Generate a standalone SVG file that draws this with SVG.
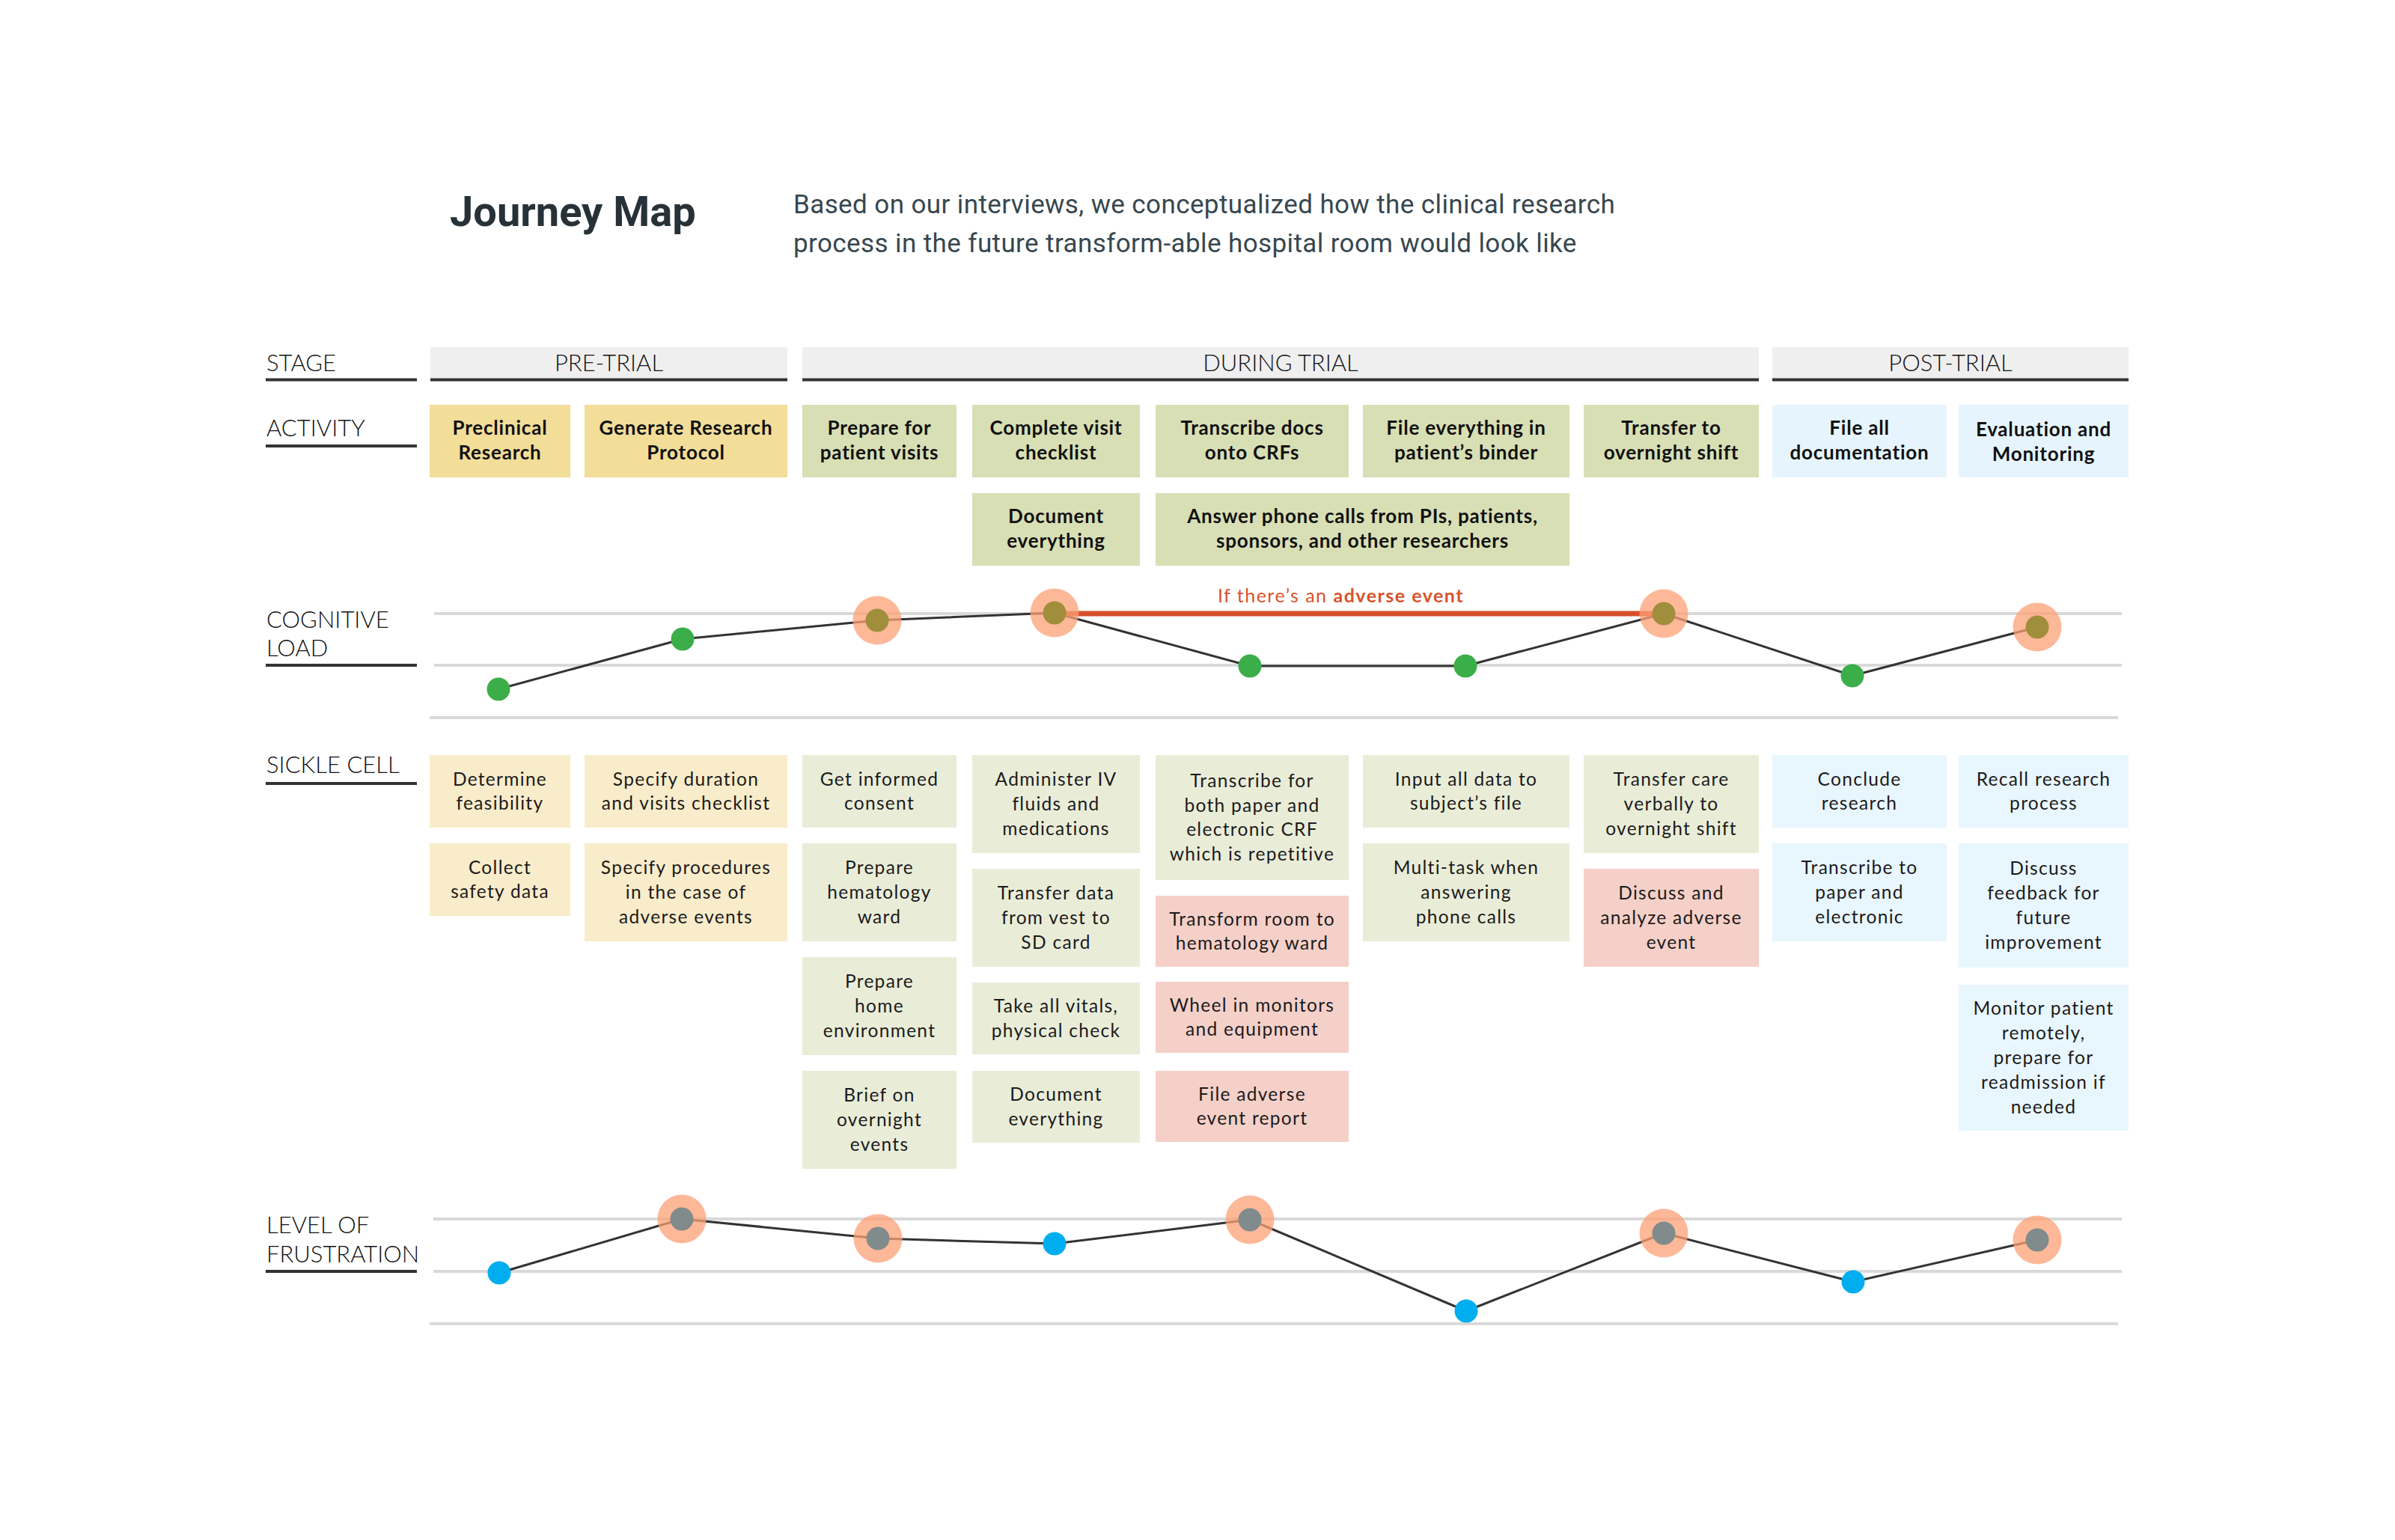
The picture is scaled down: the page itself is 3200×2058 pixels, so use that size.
<svg xmlns="http://www.w3.org/2000/svg" width="3200" height="2058" viewBox="0 0 3200 2058">
<style>
.title{font-family:Roboto,"Liberation Sans",sans-serif;font-weight:700;font-size:56px;fill:#263238}
.sub{font-family:Roboto,"Liberation Sans",sans-serif;font-size:35px;letter-spacing:0.4px;fill:#37474f}
.lbl{font-family:Lato,"Liberation Sans",sans-serif;font-weight:300;font-size:31px;fill:#111}
.stg{font-family:Lato,"Liberation Sans",sans-serif;font-weight:300;font-size:31px;fill:#111;text-anchor:middle}
.act{font-family:Lato,"Liberation Sans",sans-serif;font-weight:700;font-size:26px;letter-spacing:0.8px;fill:#111;text-anchor:middle}
.card{font-family:Lato,"Liberation Sans",sans-serif;font-size:24.5px;letter-spacing:1.3px;fill:#1c1a1b;text-anchor:middle}
.ul{stroke:#333;stroke-width:4}
.guide{stroke:#d9d9d9;stroke-width:4}
.curve{fill:none;stroke:#333;stroke-width:3;stroke-linejoin:round}
.halo{fill:#fca076;fill-opacity:0.75}
.ay{fill:#f2dd99}.ag{fill:#d8dfb4}.ab{fill:#e6f5fd}
.cy{fill:#f8ecca}.cg{fill:#e9edd8}.cp{fill:#f4d0c8}.cb{fill:#e8f6fd}
.green{fill:#3cae49}.olive{fill:#a08e3c}.blue{fill:#00aeef}.grey{fill:#818b8b}
</style>
<rect width="3200" height="2058" fill="#fff"/>

<g id="header">
<text class="title" x="601" y="302">Journey Map</text>
<text class="sub" x="1060" y="285">Based on our interviews, we conceptualized how the clinical research</text>
<text class="sub" x="1060" y="337">process in the future transform-able hospital room would look like</text>
</g>

<g id="row-labels">
<text class="lbl" x="356" y="496">STAGE</text>
<line class="ul" x1="355" y1="507.5" x2="557" y2="507.5"/>
<text class="lbl" x="356" y="583">ACTIVITY</text>
<line class="ul" x1="355" y1="596" x2="557" y2="596"/>
<text class="lbl" x="356" y="839">COGNITIVE</text>
<text class="lbl" x="356" y="877">LOAD</text>
<line class="ul" x1="355" y1="889" x2="557" y2="889"/>
<text class="lbl" x="356" y="1033">SICKLE CELL</text>
<line class="ul" x1="355" y1="1047" x2="557" y2="1047"/>
<text class="lbl" x="356" y="1648">LEVEL OF</text>
<text class="lbl" x="356" y="1687">FRUSTRATION</text>
<line class="ul" x1="355" y1="1699" x2="557" y2="1699"/>
</g>

<g id="stages">
<g id="stage-pre"><rect x="575" y="464" width="477" height="42" fill="#efefef"/><line class="ul" x1="575" y1="507.5" x2="1052" y2="507.5"/><text class="stg" x="813.5" y="496">PRE-TRIAL</text></g>
<g id="stage-during"><rect x="1072" y="464" width="1278" height="42" fill="#efefef"/><line class="ul" x1="1072" y1="507.5" x2="2350" y2="507.5"/><text class="stg" x="1711" y="496">DURING TRIAL</text></g>
<g id="stage-post"><rect x="2368" y="464" width="476" height="42" fill="#efefef"/><line class="ul" x1="2368" y1="507.5" x2="2844" y2="507.5"/><text class="stg" x="2606" y="496">POST-TRIAL</text></g>
</g>

<g id="activities">
<g id="act-1"><rect class="ay" x="574" y="541" width="188" height="97"/><text class="act" x="668" y="580.5"><tspan x="668">Preclinical</tspan><tspan x="668" dy="33">Research</tspan></text></g>
<g id="act-2"><rect class="ay" x="781" y="541" width="271" height="97"/><text class="act" x="916.5" y="580.5"><tspan x="916.5">Generate Research</tspan><tspan x="916.5" dy="33">Protocol</tspan></text></g>
<g id="act-3"><rect class="ag" x="1072" y="541" width="206" height="97"/><text class="act" x="1175" y="580.5"><tspan x="1175">Prepare for</tspan><tspan x="1175" dy="33">patient visits</tspan></text></g>
<g id="act-4"><rect class="ag" x="1299" y="541" width="224" height="97"/><text class="act" x="1411" y="580.5"><tspan x="1411">Complete visit</tspan><tspan x="1411" dy="33">checklist</tspan></text></g>
<g id="act-5"><rect class="ag" x="1544" y="541" width="258" height="97"/><text class="act" x="1673" y="580.5"><tspan x="1673">Transcribe docs</tspan><tspan x="1673" dy="33">onto CRFs</tspan></text></g>
<g id="act-6"><rect class="ag" x="1821" y="541" width="276" height="97"/><text class="act" x="1959" y="580.5"><tspan x="1959">File everything in</tspan><tspan x="1959" dy="33">patient’s binder</tspan></text></g>
<g id="act-7"><rect class="ag" x="2116" y="541" width="234" height="97"/><text class="act" x="2233" y="580.5"><tspan x="2233">Transfer to</tspan><tspan x="2233" dy="33">overnight shift</tspan></text></g>
<g id="act-8"><rect class="ab" x="2368" y="541" width="233" height="97"/><text class="act" x="2484.5" y="580.5"><tspan x="2484.5">File all</tspan><tspan x="2484.5" dy="33">documentation</tspan></text></g>
<g id="act-9"><rect class="ab" x="2617" y="541" width="227" height="97"/><text class="act" x="2730.5" y="582.5"><tspan x="2730.5">Evaluation and</tspan><tspan x="2730.5" dy="33">Monitoring</tspan></text></g>
<g id="act-10"><rect class="ag" x="1299" y="659" width="224" height="97"/><text class="act" x="1411" y="698.5"><tspan x="1411">Document</tspan><tspan x="1411" dy="33">everything</tspan></text></g>
<g id="act-11"><rect class="ag" x="1544" y="659" width="553" height="97"/><text class="act" x="1820.5" y="698.5"><tspan x="1820.5">Answer phone calls from PIs, patients,</tspan><tspan x="1820.5" dy="33">sponsors, and other researchers</tspan></text></g>
</g>

<g id="connectors">
<g id="cognitive-guides">
<line class="guide" x1="580" y1="820" x2="2835" y2="820"/>
<line class="guide" x1="580" y1="889" x2="2835" y2="889"/>
<line class="guide" x1="574" y1="959" x2="2830" y2="959"/>
</g>
<polyline class="curve" points="666,921 912,854 1172,829 1409,819 1670,890 1958,890 2223,820 2475,903 2722,838"/>
<line x1="1409" y1="820" x2="2223" y2="820" stroke="#d84f2b" stroke-width="7"/>
<g id="frustration-guides">
<line class="guide" x1="579" y1="1629" x2="2835" y2="1629"/>
<line class="guide" x1="579" y1="1699" x2="2835" y2="1699"/>
<line class="guide" x1="574" y1="1769" x2="2830" y2="1769"/>
</g>
<polyline class="curve" points="667,1701 911,1629 1173,1655 1409,1662 1670,1630 1959,1752 2223,1648 2476,1713 2722,1657"/>
</g>

<g id="adverse-label">
<text x="1791.5" y="805" text-anchor="middle" font-family="Lato, 'Liberation Sans', sans-serif" font-size="25" letter-spacing="1.5" fill="#d9532c">If there’s an <tspan font-weight="700">adverse event</tspan></text>
</g>

<g id="cognitive-points">
<g id="cl-1"><circle class="green" cx="666" cy="921" r="15.5"/></g>
<g id="cl-2"><circle class="green" cx="912" cy="854" r="15.5"/></g>
<g id="cl-3"><circle class="halo" cx="1172" cy="829" r="32.5"/><circle class="olive" cx="1172" cy="829" r="15.5"/></g>
<g id="cl-4"><circle class="halo" cx="1409" cy="819" r="32.5"/><circle class="olive" cx="1409" cy="819" r="15.5"/></g>
<g id="cl-5"><circle class="green" cx="1670" cy="890" r="15.5"/></g>
<g id="cl-6"><circle class="green" cx="1958" cy="890" r="15.5"/></g>
<g id="cl-7"><circle class="halo" cx="2223" cy="820" r="32.5"/><circle class="olive" cx="2223" cy="820" r="15.5"/></g>
<g id="cl-8"><circle class="green" cx="2475" cy="903" r="15.5"/></g>
<g id="cl-9"><circle class="halo" cx="2722" cy="838" r="32.5"/><circle class="olive" cx="2722" cy="838" r="15.5"/></g>
</g>

<g id="frustration-points">
<g id="fr-1"><circle class="blue" cx="667" cy="1701" r="15.5"/></g>
<g id="fr-2"><circle class="halo" cx="911" cy="1629" r="32.5"/><circle class="grey" cx="911" cy="1629" r="15.5"/></g>
<g id="fr-3"><circle class="halo" cx="1173" cy="1655" r="32.5"/><circle class="grey" cx="1173" cy="1655" r="15.5"/></g>
<g id="fr-4"><circle class="blue" cx="1409" cy="1662" r="15.5"/></g>
<g id="fr-5"><circle class="halo" cx="1670" cy="1630" r="32.5"/><circle class="grey" cx="1670" cy="1630" r="15.5"/></g>
<g id="fr-6"><circle class="blue" cx="1959" cy="1752" r="15.5"/></g>
<g id="fr-7"><circle class="halo" cx="2223" cy="1648" r="32.5"/><circle class="grey" cx="2223" cy="1648" r="15.5"/></g>
<g id="fr-8"><circle class="blue" cx="2476" cy="1713" r="15.5"/></g>
<g id="fr-9"><circle class="halo" cx="2722" cy="1657" r="32.5"/><circle class="grey" cx="2722" cy="1657" r="15.5"/></g>
</g>

<g id="sickle-cell">
<g id="sc-1-1"><rect class="cy" x="574" y="1009" width="188" height="97"/><text class="card" y="1049.5"><tspan x="668">Determine</tspan><tspan x="668" dy="32.8">feasibility</tspan></text></g>
<g id="sc-1-2"><rect class="cy" x="574" y="1127" width="188" height="97"/><text class="card" y="1167.5"><tspan x="668">Collect</tspan><tspan x="668" dy="32.8">safety data</tspan></text></g>
<g id="sc-2-1"><rect class="cy" x="781" y="1009" width="271" height="97"/><text class="card" y="1049.5"><tspan x="916.5">Specify duration</tspan><tspan x="916.5" dy="32.8">and visits checklist</tspan></text></g>
<g id="sc-2-2"><rect class="cy" x="781" y="1127" width="271" height="131"/><text class="card" y="1168.2"><tspan x="916.5">Specify procedures</tspan><tspan x="916.5" dy="32.8">in the case of</tspan><tspan x="916.5" dy="32.8">adverse events</tspan></text></g>
<g id="sc-3-1"><rect class="cg" x="1072" y="1009" width="206" height="97"/><text class="card" y="1049.5"><tspan x="1175">Get informed</tspan><tspan x="1175" dy="32.8">consent</tspan></text></g>
<g id="sc-3-2"><rect class="cg" x="1072" y="1127" width="206" height="131"/><text class="card" y="1168.2"><tspan x="1175">Prepare</tspan><tspan x="1175" dy="32.8">hematology</tspan><tspan x="1175" dy="32.8">ward</tspan></text></g>
<g id="sc-3-3"><rect class="cg" x="1072" y="1279" width="206" height="131"/><text class="card" y="1320.2"><tspan x="1175">Prepare</tspan><tspan x="1175" dy="32.8">home</tspan><tspan x="1175" dy="32.8">environment</tspan></text></g>
<g id="sc-3-4"><rect class="cg" x="1072" y="1431" width="206" height="131"/><text class="card" y="1472.2"><tspan x="1175">Brief on</tspan><tspan x="1175" dy="32.8">overnight</tspan><tspan x="1175" dy="32.8">events</tspan></text></g>
<g id="sc-4-1"><rect class="cg" x="1299" y="1009" width="224" height="131"/><text class="card" y="1050.2"><tspan x="1411">Administer IV</tspan><tspan x="1411" dy="32.8">fluids and</tspan><tspan x="1411" dy="32.8">medications</tspan></text></g>
<g id="sc-4-2"><rect class="cg" x="1299" y="1161" width="224" height="131"/><text class="card" y="1202.2"><tspan x="1411">Transfer data</tspan><tspan x="1411" dy="32.8">from vest to</tspan><tspan x="1411" dy="32.8">SD card</tspan></text></g>
<g id="sc-4-3"><rect class="cg" x="1299" y="1313" width="224" height="96"/><text class="card" y="1353"><tspan x="1411">Take all vitals,</tspan><tspan x="1411" dy="32.8">physical check</tspan></text></g>
<g id="sc-4-4"><rect class="cg" x="1299" y="1431" width="224" height="96"/><text class="card" y="1471"><tspan x="1411">Document</tspan><tspan x="1411" dy="32.8">everything</tspan></text></g>
<g id="sc-5-1"><rect class="cg" x="1544" y="1009" width="258" height="167"/><text class="card" y="1051.8"><tspan x="1673">Transcribe for</tspan><tspan x="1673" dy="32.8">both paper and</tspan><tspan x="1673" dy="32.8">electronic CRF</tspan><tspan x="1673" dy="32.8">which is repetitive</tspan></text></g>
<g id="sc-5-2"><rect class="cp" x="1544" y="1197" width="258" height="95"/><text class="card" y="1236.6"><tspan x="1673">Transform room to</tspan><tspan x="1673" dy="32.8">hematology ward</tspan></text></g>
<g id="sc-5-3"><rect class="cp" x="1544" y="1312" width="258" height="95"/><text class="card" y="1351.6"><tspan x="1673">Wheel in monitors</tspan><tspan x="1673" dy="32.8">and equipment</tspan></text></g>
<g id="sc-5-4"><rect class="cp" x="1544" y="1431" width="258" height="95"/><text class="card" y="1470.6"><tspan x="1673">File adverse</tspan><tspan x="1673" dy="32.8">event report</tspan></text></g>
<g id="sc-6-1"><rect class="cg" x="1821" y="1009" width="276" height="97"/><text class="card" y="1049.5"><tspan x="1959">Input all data to</tspan><tspan x="1959" dy="32.8">subject’s file</tspan></text></g>
<g id="sc-6-2"><rect class="cg" x="1821" y="1127" width="276" height="131"/><text class="card" y="1168.2"><tspan x="1959">Multi-task when</tspan><tspan x="1959" dy="32.8">answering</tspan><tspan x="1959" dy="32.8">phone calls</tspan></text></g>
<g id="sc-7-1"><rect class="cg" x="2116" y="1009" width="234" height="131"/><text class="card" y="1050.2"><tspan x="2233">Transfer care</tspan><tspan x="2233" dy="32.8">verbally to</tspan><tspan x="2233" dy="32.8">overnight shift</tspan></text></g>
<g id="sc-7-2"><rect class="cp" x="2116" y="1161" width="234" height="131"/><text class="card" y="1202.2"><tspan x="2233">Discuss and</tspan><tspan x="2233" dy="32.8">analyze adverse</tspan><tspan x="2233" dy="32.8">event</tspan></text></g>
<g id="sc-8-1"><rect class="cb" x="2368" y="1009" width="233" height="97"/><text class="card" y="1049.5"><tspan x="2484.5">Conclude</tspan><tspan x="2484.5" dy="32.8">research</tspan></text></g>
<g id="sc-8-2"><rect class="cb" x="2368" y="1127" width="233" height="131"/><text class="card" y="1168.2"><tspan x="2484.5">Transcribe to</tspan><tspan x="2484.5" dy="32.8">paper and</tspan><tspan x="2484.5" dy="32.8">electronic</tspan></text></g>
<g id="sc-9-1"><rect class="cb" x="2617" y="1009" width="227" height="97"/><text class="card" y="1049.5"><tspan x="2730.5">Recall research</tspan><tspan x="2730.5" dy="32.8">process</tspan></text></g>
<g id="sc-9-2"><rect class="cb" x="2617" y="1127" width="227" height="166"/><text class="card" y="1169.3"><tspan x="2730.5">Discuss</tspan><tspan x="2730.5" dy="32.8">feedback for</tspan><tspan x="2730.5" dy="32.8">future</tspan><tspan x="2730.5" dy="32.8">improvement</tspan></text></g>
<g id="sc-9-3"><rect class="cb" x="2617" y="1316" width="227" height="195"/><text class="card" y="1356.4"><tspan x="2730.5">Monitor patient</tspan><tspan x="2730.5" dy="32.8">remotely,</tspan><tspan x="2730.5" dy="32.8">prepare for</tspan><tspan x="2730.5" dy="32.8">readmission if</tspan><tspan x="2730.5" dy="32.8">needed</tspan></text></g>
</g>
</svg>
